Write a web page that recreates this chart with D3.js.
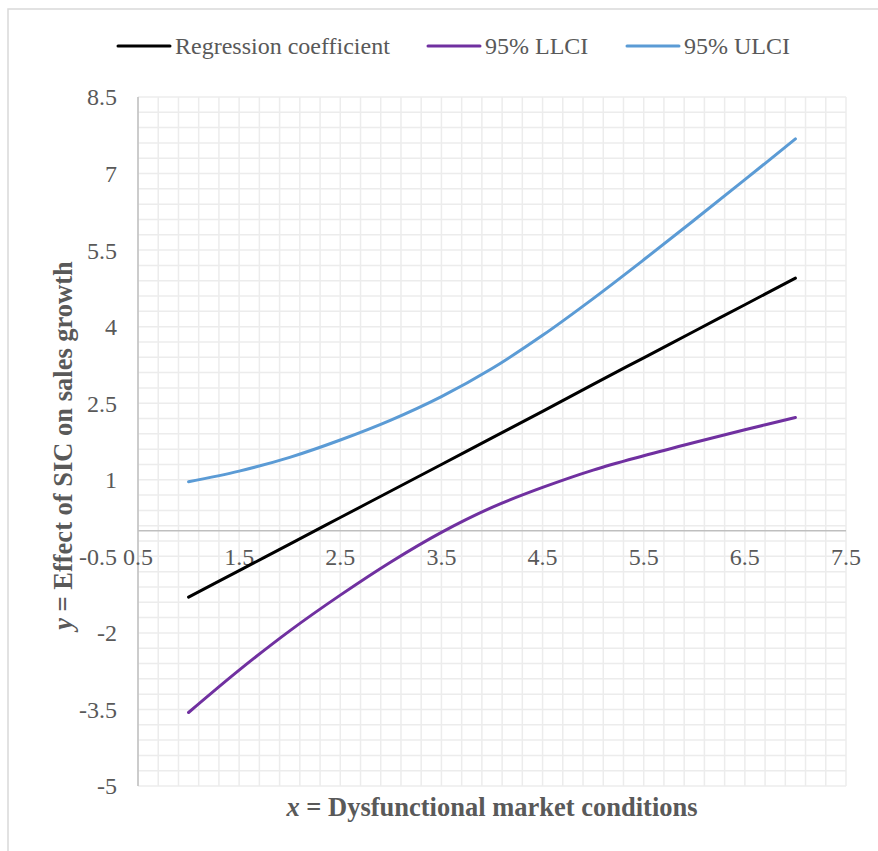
<!DOCTYPE html>
<html lang="en">
<head>
  <meta charset="UTF-8" />
  <title>Johnson-Neyman plot</title>
  <script src="https://d3js.org/d3.v7.min.js"></script>
  <style>
    body { margin: 0; background: white; }
    text { font-family: "Liberation Serif", "Times New Roman", serif; fill: #595959; }
  </style>
</head>
<body>
<div id="chart"></div>
<script>
// values
var xs     = [1, 1.5, 2, 2.5, 3, 3.5, 4, 4.5, 5, 5.5, 6, 6.5, 7];
var coef   = [-1.30, -0.78, -0.26, 0.26, 0.78, 1.30, 1.82, 2.34, 2.87, 3.39, 3.91, 4.43, 4.95];
var llci   = [-3.56, -2.73, -1.96, -1.26, -0.61, -0.03, 0.46, 0.85, 1.19, 1.47, 1.73, 1.98, 2.22];
var ulci   = [0.96, 1.17, 1.44, 1.78, 2.17, 2.63, 3.18, 3.83, 4.55, 5.31, 6.09, 6.88, 7.68];
var xTicks = [0.5, 1.5, 2.5, 3.5, 4.5, 5.5, 6.5, 7.5];
var yTicks = [-5, -3.5, -2, -0.5, 1, 2.5, 4, 5.5, 7, 8.5];
var seriesNames  = ["Regression coefficient", "95% LLCI", "95% ULCI"];
var seriesColors = ["#000000", "#7030a0", "#5b9bd5"];

var W = 878, H = 851;
var margin = {top: 97, right: 32, bottom: 65, left: 138};

var svg = d3.select("#chart").append("svg")
  .attr("width", W)
  .attr("height", H);

// outer frame (chart area border, cut off by the window)
svg.append("rect")
  .attr("x", 8).attr("y", 9)
  .attr("width", W + 20).attr("height", H + 20)
  .style("fill", "none")
  .style("stroke", "#d9d9d9")
  .style("stroke-width", 1.5);

var x = d3.scaleLinear().domain([0.5, 7.5]).range([margin.left, W - margin.right]);
var y = d3.scaleLinear().domain([-5, 8.5]).range([H - margin.bottom, margin.top]);

// gridlines (minor: 0.2 in x, 0.3 in y)
var gx = d3.range(0, 36).map(function(i) { return 0.5 + i * 0.2; });
var gy = d3.range(0, 46).map(function(i) { return -5 + i * 0.3; });

svg.append("g").selectAll("line")
  .data(gx).enter().append("line")
    .attr("x1", function(d) { return x(d); })
    .attr("x2", function(d) { return x(d); })
    .attr("y1", y(-5)).attr("y2", y(8.5))
    .style("stroke", "#ececec").style("stroke-width", 1.5);

svg.append("g").selectAll("line")
  .data(gy).enter().append("line")
    .attr("x1", x(0.5)).attr("x2", x(7.5))
    .attr("y1", function(d) { return y(d); })
    .attr("y2", function(d) { return y(d); })
    .style("stroke", "#ececec").style("stroke-width", 1.5);

// axis lines
svg.append("line")
  .attr("x1", x(0.5)).attr("x2", x(0.5))
  .attr("y1", y(-5)).attr("y2", y(8.5))
  .style("stroke", "#bfbfbf").style("stroke-width", 1.5);
svg.append("line")
  .attr("x1", x(0.5)).attr("x2", x(7.5))
  .attr("y1", y(0)).attr("y2", y(0))
  .style("stroke", "#bfbfbf").style("stroke-width", 1.5);

// tick labels
svg.append("g").selectAll("text")
  .data(yTicks).enter().append("text")
    .attr("x", x(0.5) - 21)
    .attr("y", function(d) { return y(d); })
    .attr("dy", "0.35em")
    .attr("text-anchor", "end")
    .style("font-size", "24px")
    .text(function(d) { return d; });

svg.append("g").selectAll("text")
  .data(xTicks).enter().append("text")
    .attr("x", function(d) { return x(d); })
    .attr("y", y(0) + 26)
    .attr("dy", "0.35em")
    .attr("text-anchor", "middle")
    .style("font-size", "24px")
    .text(function(d) { return d; });

// axis titles
var xt = svg.append("text")
  .attr("x", (x(0.5) + x(7.5)) / 2)
  .attr("y", 816)
  .attr("text-anchor", "middle")
  .style("font-size", "26.5px")
  .style("font-weight", "bold");
xt.append("tspan").style("font-style", "italic").text("x");
xt.append("tspan").text(" = Dysfunctional market conditions");

var yt = svg.append("text")
  .attr("transform", "translate(72," + ((y(-5) + y(8.5)) / 2 + 4) + ") rotate(-90)")
  .attr("text-anchor", "middle")
  .style("font-size", "26.5px")
  .style("font-weight", "bold");
yt.append("tspan").style("font-style", "italic").text("y");
yt.append("tspan").text(" = Effect of SIC on sales growth");

// series
var series = [coef, llci, ulci];
var line = d3.line()
  .x(function(d, i) { return x(xs[i]); })
  .y(function(d) { return y(d); })
  .curve(d3.curveCatmullRom);

svg.append("g").selectAll("path")
  .data(series).enter().append("path")
    .attr("d", line)
    .style("fill", "none")
    .style("stroke", function(d, i) { return seriesColors[i]; })
    .style("stroke-width", 3)
    .style("stroke-linecap", "round");

// legend
var legendX = [118, 428, 627];
var lg = svg.append("g").selectAll("g")
  .data(seriesNames).enter().append("g")
    .attr("transform", function(d, i) { return "translate(" + legendX[i] + ",46)"; });
lg.append("line")
  .attr("x1", 0).attr("x2", 52)
  .style("stroke", function(d, i) { return seriesColors[i]; })
  .style("stroke-width", 3)
  .style("stroke-linecap", "round");
lg.append("text")
  .attr("x", 57)
  .attr("dy", "0.35em")
  .style("font-size", "24px")
  .text(function(d) { return d; });
</script>
</body>
</html>
